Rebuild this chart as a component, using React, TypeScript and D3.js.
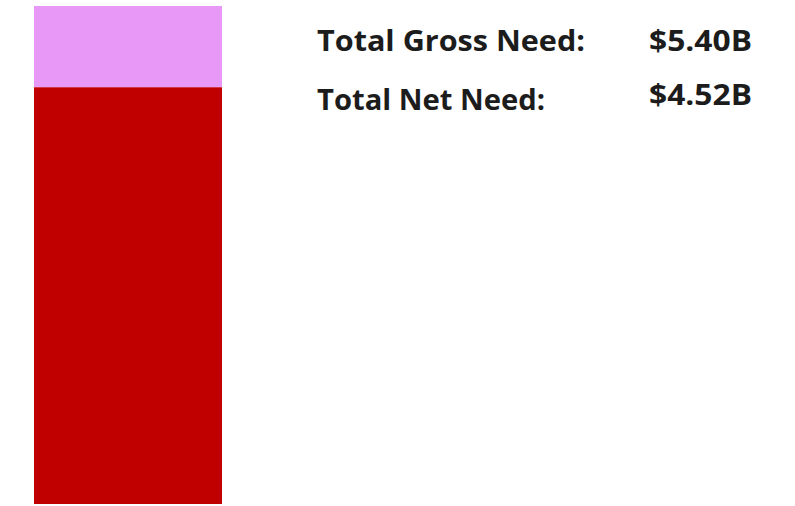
import React from "react";
import * as d3 from "d3";

const categories = ["Need"];
const netNeed = [4.52];
const grossNeed = [5.40];
const labels = ["Total Gross Need:", "Total Net Need:"];
const valueLabels = ["$5.40B", "$4.52B"];

const W = 795;
const H = 506;
const COLORS = { net: "#C00000", gap: "#E899F8", text: "#1c1c1c" };

export default function App() {
  const x = d3.scaleBand<string>().domain(categories).range([34, 222]).padding(0);
  const y = d3.scaleLinear().domain([0, d3.max(grossNeed) as number]).range([504, 6]);

  const rows = categories.map((c, i) => ({
    c,
    segs: [
      { key: "net", y0: 0, y1: netNeed[i], color: COLORS.net },
      { key: "gap", y0: netNeed[i], y1: grossNeed[i], color: COLORS.gap },
    ],
  }));

  const labelLayout = [
    { x: 317, y: 51, len: 268 },
    { x: 317, y: 110, len: 228 },
  ];
  const valueLayout = [
    { x: 649, y: 51, len: 103 },
    { x: 649, y: 105, len: 103 },
  ];

  return (
    <div style={{ position: "absolute", left: 0, top: 0 }}>
      <svg width={W} height={H} style={{ display: "block" }}>
        <rect x={0} y={0} width={W} height={H} fill="#ffffff" />
        {rows.map((r) =>
          r.segs.map((s) => (
            <rect
              key={r.c + s.key}
              x={x(r.c)}
              width={x.bandwidth()}
              y={y(s.y1)}
              height={y(s.y0) - y(s.y1)}
              fill={s.color}
            />
          ))
        )}
        {labels.map((t, i) => (
          <text
            key={t}
            x={labelLayout[i].x}
            y={labelLayout[i].y}
            textLength={labelLayout[i].len}
            lengthAdjust="spacingAndGlyphs"
            fontFamily="'Open Sans', sans-serif"
            fontWeight={700}
            fontSize={29}
            fill={COLORS.text}
          >
            {t}
          </text>
        ))}
        {valueLabels.map((t, i) => (
          <text
            key={t}
            x={valueLayout[i].x}
            y={valueLayout[i].y}
            textLength={valueLayout[i].len}
            lengthAdjust="spacingAndGlyphs"
            fontFamily="'Open Sans', sans-serif"
            fontWeight={700}
            fontSize={29}
            fill={COLORS.text}
          >
            {t}
          </text>
        ))}
      </svg>
    </div>
  );
}
